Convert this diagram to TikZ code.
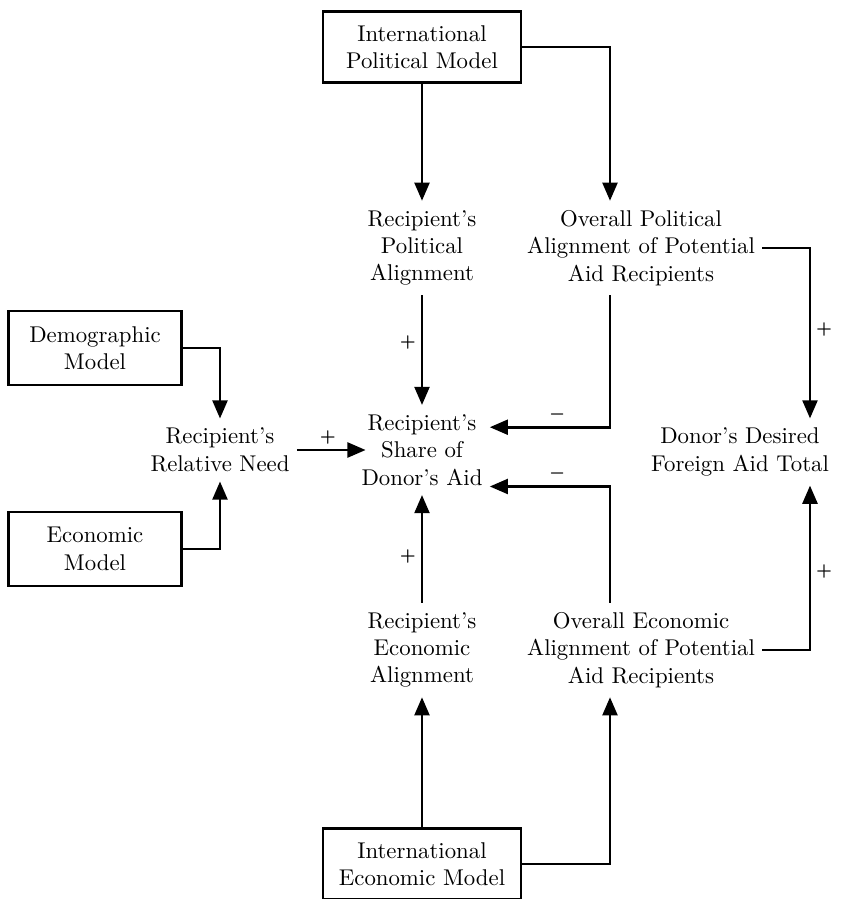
\documentclass[tikz,border=0pt]{standalone}
\usepackage{amsmath}
\usepackage{tikz}
\usetikzlibrary{arrows.meta}

\begin{document}
\begin{tikzpicture}[x=0.4386pt, y=-0.4386pt,
	model/.style={draw, line width=1.1pt, align=center, inner sep=0pt},
	var/.style={align=center, inner xsep=3pt, inner ysep=4pt},
	link/.style={line width=1.3pt, -{Triangle[length=8pt, width=6.5pt]}},
	sgn/.style={font=\scriptsize, inner sep=2pt}]
	\useasboundingbox (0, 0) rectangle (843, 899);
	
	% Model boxes
	\node[model, minimum width=87pt, minimum height=31pt] (ipm) at (422, 47) {International\\Political Model};
	\node[model, minimum width=87pt, minimum height=31pt] (iem) at (422, 864) {International\\Economic Model};
	\node[model, minimum width=76pt, minimum height=32.5pt] (demo) at (95, 348) {Demographic\\Model};
	\node[model, minimum width=76pt, minimum height=32.5pt] (econ) at (95, 549) {Economic\\Model};
	
	% Variables
	\node[var] (rpa) at (422, 248) {Recipient's\\Political\\Alignment};
	\node[var] (opa) at (641, 248) {Overall Political\\Alignment of Potential\\Aid Recipients};
	\node[var] (need) at (220, 450) {Recipient's\\Relative Need};
	\node[var] (share) at (422, 450) {Recipient's\\Share of\\Donor's Aid};
	\node[var] (donor) at (740, 452) {Donor's Desired\\Foreign Aid Total};
	\node[var] (rea) at (422, 650) {Recipient's\\Economic\\Alignment};
	\node[var] (oea) at (641, 650) {Overall Economic\\Alignment of Potential\\Aid Recipients};
	
	% Columns for the bent links
	\coordinate (rcol) at (610, 0);
	\coordinate (dcol) at (810, 0);
	
	% Links
	\draw[link] (ipm.south) -- (rpa.north);
	\draw[link] (ipm.east) -| (opa.north -| rcol);
	\draw[link] (opa.east) -| (donor.north -| dcol) node[sgn, right, pos=0.74] {$\boldsymbol{+}$};
	\draw[link] (rpa.south) -- (share.north) node[sgn, left, pos=0.43] {$\boldsymbol{+}$};
	\draw[link] (opa.south -| rcol) |- ([yshift=10pt]share.east) node[sgn, above, pos=0.72] {$\boldsymbol{-}$};
	\draw[link] (need.east) -- ([xshift=5pt]share.west) node[sgn, above, pos=0.45] {$\boldsymbol{+}$};
	\draw[link] (demo.east) -| (need.north);
	\draw[link] (econ.east) -| (need.south);
	\draw[link] (rea.north) -- (share.south) node[sgn, left, pos=0.43] {$\boldsymbol{+}$};
	\draw[link] (oea.north -| rcol) |- ([yshift=-16pt]share.east) node[sgn, above, pos=0.72] {$\boldsymbol{-}$};
	\draw[link] (oea.east) -| (donor.south -| dcol) node[sgn, right, pos=0.74] {$\boldsymbol{+}$};
	\draw[link] (iem.north) -- (rea.south);
	\draw[link] (iem.east) -| (oea.south -| rcol);
\end{tikzpicture}
\end{document}
